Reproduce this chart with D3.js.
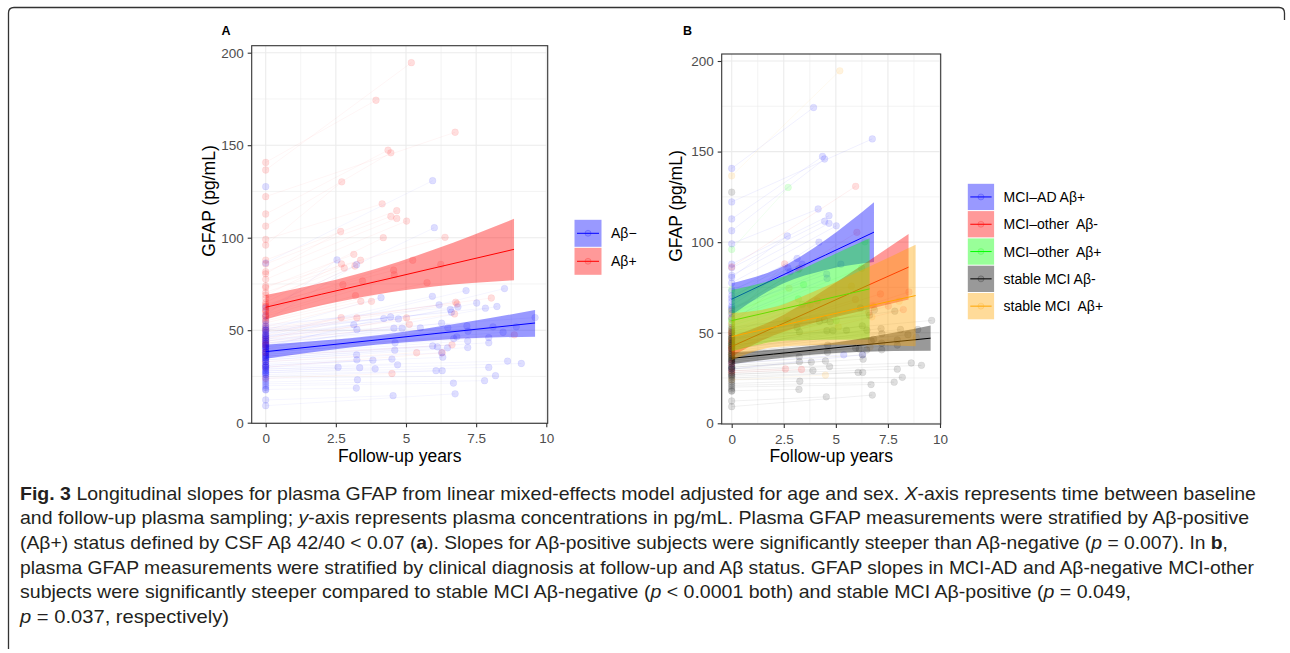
<!DOCTYPE html>
<html>
<head>
<meta charset="utf-8">
<script src="https://cdn.jsdelivr.net/npm/d3@7"></script>
<style>
  body { margin: 0; background: #fff; }
  svg { display: block; }
  text { font-family: "Liberation Sans", Arial, Helvetica, sans-serif; }
</style>
</head>
<body>
<div id="chart"></div>
<script>
// ---- subjects, Aβ-positive (follow-up time, follow-up GFAP, baseline GFAP, diagnosis at follow-up)
var posTime = [5.19, 3.93, 6.75, 4.36, 4.46, 2.71, 4.15, 4.67, 4.46, 4.67, 5.02, 2.67, 6.39, 4.19,
  2.80, 3.14, 3.38, 2.70, 3.18, 3.45, 2.75, 4.56, 4.58, 5.24, 6.24, 5.75, 3.20, 3.39, 3.77, 6.77,
  6.82, 6.73, 8.04, 2.69, 3.25, 5.02, 5.12, 6.29, 6.64, 5.38, 4.50, 8.86];
var posGfap = [194.6, 174.3, 157, 147.3, 145.9, 130.2, 118.3, 114.6, 111.5, 110.4, 109, 103.4, 100.2, 100,
  83.6, 91, 87.8, 85.8, 84.7, 76.6, 74.6, 82.4, 80, 87.8, 85.6, 75.7, 68.7, 65.6, 65.6, 65.1,
  64.2, 58.8, 67.4, 56.8, 56.7, 56.7, 53.2, 37.8, 42.1, 37.8, 26.6, 47.5];
var posBase = [136.6, 140.7, 122.2, 112.8, 106.3, 96, 99.1, 87.9, 85.8, 81.6, 77.5, 80.5, 73.9, 69,
  67.2, 73, 70.5, 65, 62.7, 61, 60, 64, 58.5, 63, 57.5, 55, 56, 54, 52, 50,
  49, 46, 51, 47, 45, 44, 43, 30, 36, 33, 24, 40];
var posDx = ["sAp", "AD", "AD", "AD", "AD", "oAp", "AD", "AD", "AD", "AD", "AD", "AD", "oAp", "AD",
  "AD", "AD", "AD", "AD", "oAp", "oAp", "sAp", "AD", "AD", "AD", "oAp", "sAp", "oAp", "oAp", "sAp", "sAp",
  "sAp", "sAp", "sAp", "oAp", "sAp", "oAp", "sAp", "AD", "sAp", "AD", "sAp", "sAp"];

// ---- subjects, Aβ-negative
var negTime = [5.95, 6.01, 2.54, 3.24, 4.11, 5.94, 6.18, 6.58, 6.62, 6.85, 7.14, 7.52, 7.83, 8.24, 8.51,
  4.21, 4.45, 4.73, 4.57, 4.86, 5.51, 3.14, 3.25, 6.27, 6.49, 7.17, 7.21, 8.46, 8.93, 9.60, 8.10,
  7.20, 7.20, 7.95, 7.95, 6.81, 6.70, 6.48, 6.27, 6.31, 6.12, 5.95, 4.60, 4.61, 3.24, 3.25, 3.82,
  3.90, 3.35, 2.58, 4.50, 4.70, 3.27, 3.23, 4.54, 6.07, 6.29, 6.69, 6.75, 7.80, 7.95, 8.19, 8.62, 9.11];
var negGfap = [130.8, 105.4, 88, 85.4, 67.6, 68.3, 63.7, 61.2, 59.7, 62.6, 71.4, 64.7, 61.9, 62.8, 72.5,
  56.3, 57.2, 56.1, 51.1, 51.1, 51.3, 52.9, 50.4, 53.8, 51.4, 52.3, 49.5, 48.9, 51.8, 56.8, 51.8,
  44.2, 40.6, 46, 43.2, 46.4, 45.5, 40.5, 37.8, 35.4, 41, 41.5, 39.2, 43.2, 36.7, 34, 33.8,
  29.1, 29.7, 30, 34.4, 31.3, 23.2, 18.7, 14.6, 28.1, 28.1, 21.4, 15.6, 22.7, 29.9, 25.4, 33.3, 32];
var negBase = [86.3, 62, 58, 55, 50, 48, 52, 45, 51, 53, 46, 42, 50, 40, 41,
  49, 48, 47, 44, 45, 43, 46, 44, 42, 41, 43, 40, 39, 42, 47, 41,
  37, 34, 38, 36, 39, 38, 35, 33, 31, 36, 37, 35, 38, 34, 32, 31,
  27, 28, 29, 30, 29, 22, 18, 12.3, 26, 25, 20, 9.2, 21, 27, 24, 30, 28];
var negDx = ["oAn", "oAn", "oAn", "oAn", "oAn", "oAn", "sAn", "oAn", "sAn", "sAn", "oAn", "oAn", "sAn", "oAn", "oAn",
  "sAn", "sAn", "sAn", "sAn", "sAn", "sAn", "sAn", "sAn", "sAn", "sAn", "sAn", "sAn", "sAn", "sAn", "sAn", "sAn",
  "sAn", "sAn", "sAn", "sAn", "sAn", "sAn", "sAn", "sAn", "sAn", "sAn", "sAn", "sAn", "sAn", "sAn", "sAn", "sAn",
  "sAn", "oAn", "oAn", "sAn", "sAn", "sAn", "sAn", "sAn", "sAn", "sAn", "sAn", "sAn", "sAn", "sAn", "sAn", "sAn", "sAn"];

// baseline-only samples
var soloGfap = [127.6, 35, 33, 31, 26, 23, 19, 17.7, 60.5, 57, 38, 42];
var soloAb = ["neg", "neg", "neg", "neg", "neg", "neg", "neg", "neg", "pos", "pos", "pos", "pos"];
var soloDx = ["sAn", "sAn", "oAn", "sAn", "sAn", "sAn", "sAn", "sAn", "AD", "oAp", "sAp", "sAp"];

// ---- model fits, panel A
var aNegX = [0, 2, 4, 6, 8, 9.6];
var aNegFit = [38.4, 41.6, 44.8, 48.1, 51.3, 53.9];
var aNegLo = [34.6, 38.8, 42.3, 44.6, 46, 46.5];
var aNegHi = [42.2, 44.4, 47.3, 51.6, 56.6, 60.9];
var aPosX = [0, 2, 4, 6, 8.85];
var aPosFit = [62.4, 69.5, 76.5, 83.6, 93.7];
var aPosLo = [55.9, 63.5, 69.5, 73.6, 77];
var aPosHi = [69, 75.5, 83.5, 93.6, 110.2];

// ---- model fits, panel B
var bAdX = [0, 2.5, 4.5, 6.83];
var bAdFit = [68.5, 82.1, 92.9, 105.5];
var bAdLo = [59.7, 77.3, 84.6, 89];
var bAdHi = [77.3, 86.9, 101.2, 122];
var bOanX = [0, 2, 4, 6, 8.49];
var bOanFit = [42.4, 52.7, 63, 73.4, 86.2];
var bOanLo = [36.9, 48.5, 55.7, 61.5, 68.4];
var bOanHi = [47.9, 57, 70.3, 85.3, 104.5];
var bOapX = [0, 2.7, 4.5, 6.62];
var bOapFit = [56.7, 63.8, 68.6, 74.2];
var bOapLo = [39.8, 45.7, 46.1, 46.3];
var bOapHi = [73.6, 81.9, 91.1, 102.1];
var bSanX = [0, 2, 4, 6, 9.55];
var bSanFit = [35.9, 38.2, 40.5, 42.9, 47];
var bSanLo = [32.6, 35.6, 38, 39.4, 40];
var bSanHi = [39.2, 40.8, 43, 46.4, 54];
var bSapX = [0, 2, 4, 6, 8.83];
var bSapFit = [47.9, 53, 58.1, 63.3, 70.5];
var bSapLo = [34.9, 42, 43.1, 43.3, 42.5];
var bSapHi = [60.9, 64, 73.1, 83.3, 98.5];

// ---- axes and legends
var xTicks = [0, 2.5, 5, 7.5, 10];
var xMinor = [1.25, 3.75, 6.25, 8.75];
var yTicks = [0, 50, 100, 150, 200];
var yMinor = [25, 75, 125, 175];
var abKeys = ["neg", "pos"];
var abLabels = ["Aβ−", "Aβ+"];
var dxKeys = ["AD", "oAn", "oAp", "sAn", "sAp"];
var dxLabels = ["MCI–AD Aβ+", "MCI–other  Aβ-", "MCI–other  Aβ+", "stable MCI Aβ-", "stable MCI  Aβ+"];

var abColor = {neg: "#0000ff", pos: "#ff0000"};
var dxColor = {AD: "#0000ff", oAn: "#ff0000", oAp: "#00ff00", sAn: "#000000", sAp: "#ffa500"};

var captionLines = [
  [["Fig. 3", "b"], [" Longitudinal slopes for plasma GFAP from linear mixed-effects model adjusted for age and sex. "], ["X", "i"], ["-axis represents time between baseline"]],
  [["and follow-up plasma sampling; "], ["y", "i"], ["-axis represents plasma concentrations in pg/mL. Plasma GFAP measurements were stratified by Aβ-positive"]],
  [["(Aβ+) status defined by CSF Aβ 42/40 < 0.07 ("], ["a", "b"], ["). Slopes for Aβ-positive subjects were significantly steeper than Aβ-negative ("], ["p", "i"], [" = 0.007). In "], ["b", "b"], [","]],
  [["plasma GFAP measurements were stratified by clinical diagnosis at follow-up and Aβ status. GFAP slopes in MCI-AD and Aβ-negative MCI-other"]],
  [["subjects were significantly steeper compared to stable MCI Aβ-negative ("], ["p", "i"], [" < 0.0001 both) and stable MCI Aβ-positive ("], ["p", "i"], [" = 0.049,"]],
  [["p", "i"], [" = 0.037, respectively)"]]
];
var captionWidths = [1236, 1229, 1208, 1234, 1111, 209];

// ---- build tables
function zipFit(xs, fit, lo, hi) {
  return xs.map(function (t, i) { return {t: t, fit: fit[i], lo: lo[i], hi: hi[i]}; });
}
var subjects = [];
posTime.forEach(function (t, i) {
  subjects.push({ab: "pos", dx: posDx[i], t: t, v: posGfap[i], b: posBase[i]});
});
negTime.forEach(function (t, i) {
  subjects.push({ab: "neg", dx: negDx[i], t: t, v: negGfap[i], b: negBase[i]});
});
var solos = soloGfap.map(function (v, i) { return {ab: soloAb[i], dx: soloDx[i], b: v}; });

var fitsA = [
  {key: "neg", rows: zipFit(aNegX, aNegFit, aNegLo, aNegHi)},
  {key: "pos", rows: zipFit(aPosX, aPosFit, aPosLo, aPosHi)}
];
var fitsB = [
  {key: "AD", rows: zipFit(bAdX, bAdFit, bAdLo, bAdHi)},
  {key: "oAn", rows: zipFit(bOanX, bOanFit, bOanLo, bOanHi)},
  {key: "oAp", rows: zipFit(bOapX, bOapFit, bOapLo, bOapHi)},
  {key: "sAn", rows: zipFit(bSanX, bSanFit, bSanLo, bSanHi)},
  {key: "sAp", rows: zipFit(bSapX, bSapFit, bSapLo, bSapHi)}
];

var W = 1290, H = 653;
var svg = d3.select("#chart").append("svg")
  .attr("width", W)
  .attr("height", H);
svg.append("rect").attr("width", W).attr("height", H).attr("fill", "#fff");

// figure frame
svg.append("path")
  .attr("d", "M8.5,649 V13 Q8.5,7.5 14,7.5 H1279 Q1284.5,7.5 1284.5,13 V20")
  .attr("fill", "none")
  .attr("stroke", "#333")
  .attr("stroke-width", 1.3);

function drawPanel(p) {
  var x = d3.scaleLinear().domain([0, 10]).range(p.xr);
  var y = d3.scaleLinear().domain([0, 200]).range(p.yr);
  var g = svg.append("g");

  // grid
  g.selectAll(".gmx").data(xMinor).enter().append("line")
    .attr("x1", x).attr("x2", x).attr("y1", p.top).attr("y2", p.bottom)
    .attr("stroke", "#ededed").attr("stroke-width", 0.6);
  g.selectAll(".gmy").data(yMinor).enter().append("line")
    .attr("y1", y).attr("y2", y).attr("x1", p.left).attr("x2", p.right)
    .attr("stroke", "#ededed").attr("stroke-width", 0.6);
  g.selectAll(".gx").data(xTicks).enter().append("line")
    .attr("x1", x).attr("x2", x).attr("y1", p.top).attr("y2", p.bottom)
    .attr("stroke", "#ebebeb").attr("stroke-width", 1.1);
  g.selectAll(".gy").data(yTicks).enter().append("line")
    .attr("y1", y).attr("y2", y).attr("x1", p.left).attr("x2", p.right)
    .attr("stroke", "#ebebeb").attr("stroke-width", 1.1);

  // spaghetti lines
  g.selectAll(".traj").data(subjects).enter().append("line")
    .attr("x1", x(0)).attr("y1", function (d) { return y(d.b); })
    .attr("x2", function (d) { return x(d.t); })
    .attr("y2", function (d) { return y(d.v); })
    .attr("stroke", function (d) { return p.color(d); })
    .attr("stroke-opacity", p.lineAlpha)
    .attr("stroke-width", 0.6);

  // points: baseline + follow-up
  var pts = [];
  subjects.forEach(function (d) {
    pts.push({t: 0, v: d.b, s: d});
    pts.push({t: d.t, v: d.v, s: d});
  });
  solos.forEach(function (d) { pts.push({t: 0, v: d.b, s: d}); });
  g.selectAll(".pt").data(pts).enter().append("circle")
    .attr("cx", function (d) { return x(d.t); })
    .attr("cy", function (d) { return y(d.v); })
    .attr("r", 3.4)
    .attr("fill", function (d) { return p.color(d.s); })
    .attr("fill-opacity", 0.13)
    .attr("stroke", function (d) { return p.color(d.s); })
    .attr("stroke-opacity", 0.05);

  // ribbons + fitted lines, in group order
  var area = d3.area()
    .x(function (d) { return x(d.t); })
    .y0(function (d) { return y(d.lo); })
    .y1(function (d) { return y(d.hi); })
    .curve(d3.curveMonotoneX);
  var line = d3.line()
    .x(function (d) { return x(d.t); })
    .y(function (d) { return y(d.fit); });
  p.fits.forEach(function (f) {
    g.append("path").datum(f.rows)
      .attr("d", area)
      .attr("fill", p.palette[f.key])
      .attr("fill-opacity", 0.4);
    g.append("path").datum(f.rows)
      .attr("d", line)
      .attr("fill", "none")
      .attr("stroke", p.palette[f.key])
      .attr("stroke-width", 1);
  });

  // panel border
  g.append("rect")
    .attr("x", p.left).attr("y", p.top)
    .attr("width", p.right - p.left).attr("height", p.bottom - p.top)
    .attr("fill", "none").attr("stroke", "#333").attr("stroke-width", 1.1);

  // axes
  var ax = g.append("g")
    .attr("transform", "translate(0," + p.bottom + ")")
    .call(d3.axisBottom(x).tickValues(xTicks).tickSize(4).tickPadding(6.5).tickFormat(d3.format("~g")));
  var ay = g.append("g")
    .attr("transform", "translate(" + p.left + ",0)")
    .call(d3.axisLeft(y).tickValues(yTicks).tickSize(4).tickPadding(4));
  [ax, ay].forEach(function (a) {
    a.select(".domain").remove();
    a.selectAll(".tick line").attr("stroke", "#333").attr("stroke-width", 1.1);
    a.selectAll(".tick text")
      .attr("fill", "#4d4d4d")
      .style("font-size", "13.5px")
      .style("font-family", "'Liberation Sans', Arial, sans-serif");
  });

  // titles
  g.append("text")
    .attr("x", (p.left + p.right) / 2).attr("y", 462)
    .attr("text-anchor", "middle")
    .style("font-size", "17.5px")
    .text("Follow-up years");
  g.append("text")
    .attr("transform", "translate(" + p.ytitleX + "," + p.ytitleY + ") rotate(-90)")
    .attr("text-anchor", "middle")
    .style("font-size", "17.5px")
    .text("GFAP (pg/mL)");
  g.append("text")
    .attr("x", p.tagX).attr("y", 35)
    .style("font-size", "12.5px")
    .style("font-weight", "bold")
    .text(p.tag);

  // legend
  var lg = g.append("g").attr("transform", "translate(" + p.legX + "," + p.legY + ")");
  var k = p.keySize;
  var item = lg.selectAll(".key").data(p.keys).enter().append("g")
    .attr("transform", function (d, i) { return "translate(0," + (i * k) + ")"; });
  item.append("rect")
    .attr("width", k).attr("height", k)
    .attr("fill", "#fff");
  item.append("rect")
    .attr("x", 0.5).attr("y", 0.5)
    .attr("width", k - 1).attr("height", k - 1)
    .attr("fill", function (d) { return p.palette[d]; })
    .attr("fill-opacity", 0.4);
  item.append("circle")
    .attr("cx", k / 2).attr("cy", k / 2).attr("r", 3)
    .attr("fill", function (d) { return p.palette[d]; })
    .attr("fill-opacity", 0.1)
    .attr("stroke", function (d) { return p.palette[d]; })
    .attr("stroke-opacity", 0.2);
  item.append("line")
    .attr("x1", 3).attr("x2", k - 3)
    .attr("y1", k / 2).attr("y2", k / 2)
    .attr("stroke", function (d) { return p.palette[d]; })
    .attr("stroke-width", 1);
  item.append("text")
    .attr("x", k + 9).attr("y", k / 2)
    .attr("dy", "0.36em")
    .style("font-size", "14px")
    .style("white-space", "pre")
    .text(function (d, i) { return p.labels[i]; });
}

drawPanel({
  tag: "A", tagX: 221.5,
  left: 251.7, right: 547.7, top: 45.7, bottom: 423.3,
  xr: [265.7, 546.3], yr: [422.7, 52.7],
  ytitleX: 215, ytitleY: 201,
  color: function (d) { return abColor[d.ab]; },
  palette: abColor, fits: fitsA, lineAlpha: 0.07,
  keys: abKeys, labels: abLabels, legX: 574, legY: 219.3, keySize: 28
});

drawPanel({
  tag: "B", tagX: 683,
  left: 721.7, right: 940.7, top: 54, bottom: 424,
  xr: [731.7, 940], yr: [423.3, 61],
  ytitleX: 682, ytitleY: 206,
  color: function (d) { return dxColor[d.dx]; },
  palette: dxColor, fits: fitsB, lineAlpha: 0.1,
  keys: dxKeys, labels: dxLabels, legX: 967.3, legY: 183.3, keySize: 27.3
});

// caption
var cap = svg.append("g");
captionLines.forEach(function (segs, i) {
  var t = cap.append("text")
    .attr("x", 20)
    .attr("y", 499.5 + i * 24.7)
    .attr("textLength", captionWidths[i])
    .attr("lengthAdjust", "spacingAndGlyphs")
    .style("font-family", "'Liberation Sans', Arial, sans-serif")
    .style("font-size", "19px")
    .style("fill", "#231f20")
    .style("white-space", "pre");
  segs.forEach(function (s) {
    var ts = t.append("tspan").text(s[0]);
    if (s[1] === "b") ts.style("font-weight", "bold");
    if (s[1] === "i") ts.style("font-style", "italic");
  });
});
</script>
</body>
</html>
